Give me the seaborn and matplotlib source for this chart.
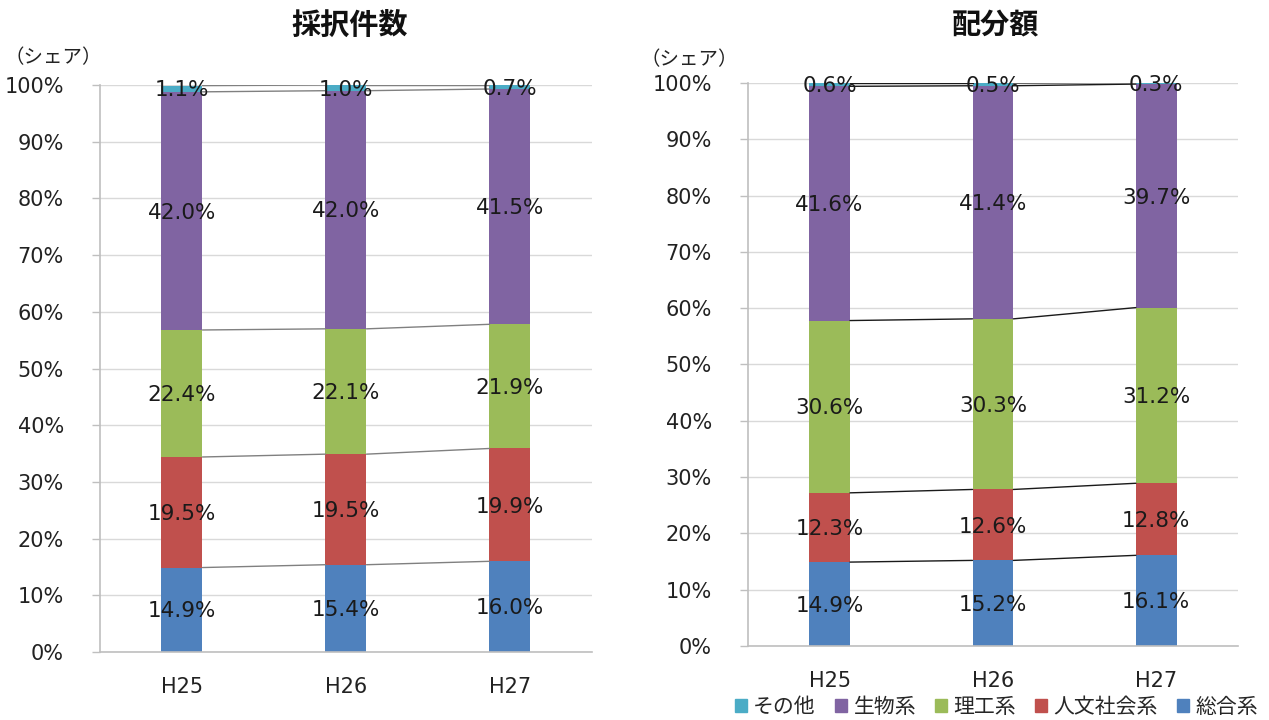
import matplotlib
matplotlib.use("Agg")
import matplotlib.pyplot as plt
import seaborn as sns
import numpy as np
import pandas as pd
from matplotlib.patches import Patch

years = ["H25", "H26", "H27"]
series = ["総合系", "人文社会系", "理工系", "生物系", "その他"]
colors = ["#4F81BD", "#C0504D", "#9BBB59", "#8064A2", "#4BACC6"]

count_sogo = [14.9, 15.4, 16.0]
count_jinbun = [19.5, 19.5, 19.9]
count_riko = [22.4, 22.1, 21.9]
count_seibutsu = [42.0, 42.0, 41.5]
count_other = [1.1, 1.0, 0.7]

amt_sogo = [14.9, 15.2, 16.1]
amt_jinbun = [12.3, 12.6, 12.8]
amt_riko = [30.6, 30.3, 31.2]
amt_seibutsu = [41.6, 41.4, 39.7]
amt_other = [0.6, 0.5, 0.3]

titles = ["採択件数", "配分額"]

sns.set_theme(style="white")
plt.rcParams['font.family'] = ['DejaVu Sans', 'Noto Sans CJK JP']
JP = ['Noto Sans CJK JP', 'DejaVu Sans']

fig = plt.figure(figsize=(12.69, 7.2), dpi=100)
ax1 = fig.add_axes([0.0788, 0.0944, 0.3877, 0.7875])
ax2 = fig.add_axes([0.5894, 0.1028, 0.3861, 0.782])

datasets = [
    [count_sogo, count_jinbun, count_riko, count_seibutsu, count_other],
    [amt_sogo, amt_jinbun, amt_riko, amt_seibutsu, amt_other],
]
line_colors = ["#808080", "#1a1a1a"]
W = 0.25

for ax, data, title, lc in zip([ax1, ax2], datasets, titles, line_colors):
    bottom = np.zeros(len(years))
    for name, vals, col in zip(series, data, colors):
        vals = np.array(vals, dtype=float)
        df = pd.DataFrame({"year": years, "val": vals})
        sns.barplot(data=df, x="year", y="val", color=col, width=W,
                    bottom=bottom, ax=ax, saturation=1, linewidth=0,
                    errorbar=None)
        top = bottom + vals
        # series lines
        for i in range(len(years) - 1):
            ax.plot([i + W / 2, i + 1 - W / 2], [top[i], top[i + 1]],
                    color=lc, lw=1.0, zorder=3)
        for i in range(len(years)):
            ax.text(i, bottom[i] + vals[i] / 2 - 0.3, f"{vals[i]:.1f}%",
                    ha="center", va="center", fontsize=15.5, color="#1a1a1a",
                    zorder=5)
        bottom = top
    ax.set_xlim(-0.5, 2.5)
    ax.set_ylim(0, 100)
    ax.set_yticks(np.arange(0, 101, 10))
    ax.set_yticklabels([f"{v}%" for v in range(0, 101, 10)], fontsize=15,
                       color="#222222")
    ax.set_xticks(range(len(years)))
    ax.set_xticklabels(years, fontsize=15, color="#222222")
    ax.tick_params(axis="x", length=0, pad=18)
    ax.tick_params(axis="y", length=6, width=1, color="#bfbfbf", direction="out", pad=20, left=True)
    ax.set_xlabel("")
    ax.set_ylabel("")
    ax.yaxis.grid(True, color="#d9d9d9", lw=1)
    ax.set_axisbelow(True)
    for s in ["top", "right"]:
        ax.spines[s].set_visible(False)
    for s in ["left", "bottom"]:
        ax.spines[s].set_color("#bfbfbf")
        ax.spines[s].set_linewidth(1.2)

fig.text(350 / 1269, 1 - 25 / 720, titles[0], ha="center", va="center",
         fontsize=21, fontweight="bold", family=JP, color="#111111")
fig.text(995 / 1269, 1 - 25 / 720, titles[1], ha="center", va="center",
         fontsize=21, fontweight="bold", family=JP, color="#111111")
fig.text(4 / 1269, 1 - 58 / 720, "（シェア）", ha="left", va="center",
         fontsize=14, family=JP, color="#222222")
fig.text(641 / 1269, 1 - 60 / 720, "（シェア）", ha="left", va="center",
         fontsize=14, family=JP, color="#222222")

handles = [Patch(color=c, label=n) for n, c in zip(series[::-1], colors[::-1])]
leg = fig.legend(handles=handles, loc="center right",
                 bbox_to_anchor=(1.003, 1 - 707 / 720), ncol=5, frameon=False,
                 handlelength=0.6, handleheight=0.6, handletextpad=0.3,
                 columnspacing=0.9, borderpad=0.2,
                 prop={"family": JP, "size": 15})

fig.savefig("out.png", dpi=100)
